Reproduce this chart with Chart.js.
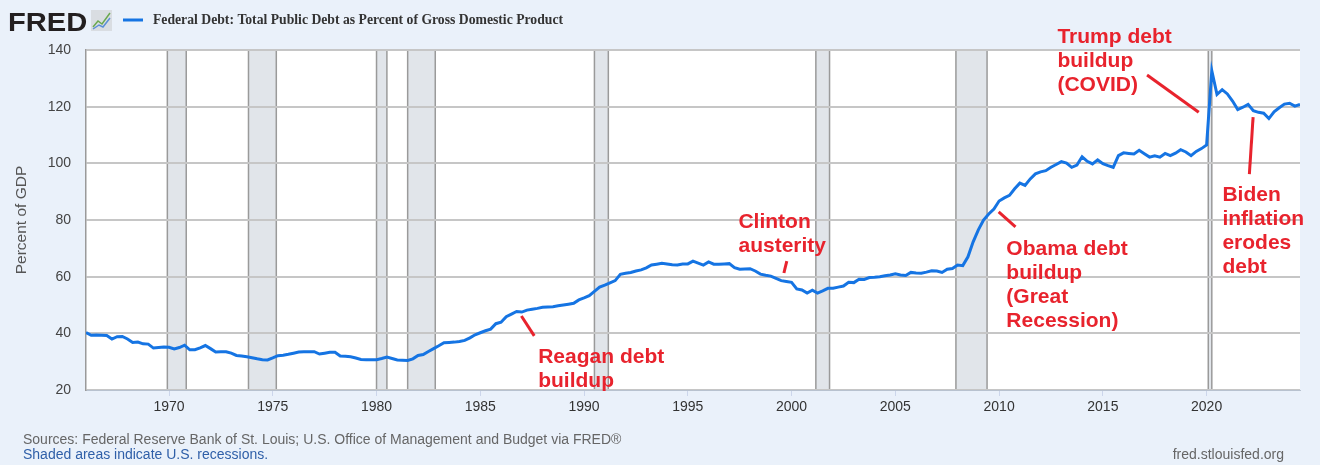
<!DOCTYPE html>
<html>
<head>
<meta charset="utf-8">
<script src="https://cdn.jsdelivr.net/npm/chart.js@4.4.1/dist/chart.umd.min.js"></script>
<style>
  html, body { margin: 0; padding: 0; background: #eaf1fa; }
  #wrap { width: 1320px; height: 465px; }
</style>
</head>
<body>
<div id="wrap"><canvas id="chart" width="1320" height="465"></canvas></div>
<script>
// Federal debt, % of GDP, quarterly from 1966 Q1
const firstYear = 1966;
const debtPct = [
  40.3, 39.3, 39.4, 39.3,   39.2, 38.0, 38.8, 38.9,   38.0, 36.8, 36.9, 36.3,   36.2, 34.8, 35.0, 35.2, // 1966-69
  35.1, 34.5, 35.0, 35.8,   34.2, 34.2, 34.9, 35.7,   34.6, 33.4, 33.5, 33.5,   33.0, 32.2, 32.0, 31.7, // 1970-73
  31.4, 31.0, 30.7, 30.6,   31.3, 32.1, 32.3, 32.6,   33.0, 33.4, 33.5, 33.5,   33.5, 32.7, 33.0, 33.3, // 1974-77
  33.3, 32.0, 31.9, 31.7,   31.3, 30.8, 30.7, 30.7,   30.7, 31.1, 31.6, 31.1,   30.6, 30.5, 30.4, 31.0, // 1978-81
  32.2, 32.5, 33.6, 34.6,   35.6, 36.7, 36.8, 36.9,   37.1, 37.5, 38.4, 39.5,   40.2, 40.9, 41.5, 43.4, // 1982-85
  43.9, 45.9, 46.8, 47.7,   47.5, 48.2, 48.5, 48.8,   49.2, 49.3, 49.4, 49.7,   50.0, 50.3, 50.6, 51.8, // 1986-89
  52.5, 53.3, 54.8, 56.3,   57.0, 57.8, 58.6, 60.8,   61.2, 61.5, 62.0, 62.4,   63.1, 64.1, 64.4, 64.7, // 1990-93
  64.5, 64.2, 64.1, 64.5,   64.5, 65.5, 64.8, 64.1,   65.2, 64.4, 64.4, 64.5,   64.6, 63.2, 62.6, 62.7, // 1994-97
  62.8, 62.0, 60.9, 60.5,   60.2, 59.4, 58.6, 58.3,   58.0, 55.7, 55.3, 54.2,   55.2, 54.2, 55.0, 55.9, // 1998-01
  55.9, 56.3, 56.7, 58.0,   57.9, 59.1, 59.0, 59.7,   59.8, 60.0, 60.3, 60.6,   61.0, 60.6, 60.4, 61.5, // 2002-05
  61.3, 61.2, 61.6, 62.1,   62.0, 61.5, 62.6, 62.9,   64.1, 63.9, 67.0, 72.3,   76.5, 80.0, 82.1, 83.9, // 2006-09
  86.7, 87.8, 88.7, 91.0,   93.0, 92.2, 94.5, 96.3,   97.0, 97.4, 98.6, 99.6,   100.6, 100.1, 98.6, 99.4, // 2010-13
  102.3, 100.7, 99.8, 101.2, 99.9, 99.2, 98.6, 102.7, 103.7, 103.5, 103.3, 104.6, 103.4, 102.2, 102.7, 102.2, // 2014-17
  103.5, 102.7, 103.6, 104.8, 104.0, 102.7, 104.2, 105.2, 106.5, 132.7, 124.3, 126.0, 124.5, 122.0, 119.0, 119.8, // 2018-21
  120.8, 118.6, 118.0, 117.7, 115.8, 118.2, 119.6, 120.9, 121.2, 120.2, 120.8 // 2022-24
];
const quarterYears = debtPct.map((v, i) => firstYear + i / 4);

const yearTicks = [1970, 1975, 1980, 1985, 1990, 1995, 2000, 2005, 2010, 2015, 2020];
const valueTicks = [20, 40, 60, 80, 100, 120, 140];

// NBER recessions (start, end) as decimal years
const recessions = [
  [1969.92, 1970.83], [1973.83, 1975.17], [1980.0, 1980.5], [1981.5, 1982.83],
  [1990.5, 1991.17], [2001.17, 2001.83], [2007.92, 2009.42], [2020.08, 2020.25]
];

// red commentary: text anchored at (x year, y value of first line), pointer line from -> to
const notes = [
  { lines: ['Reagan debt', 'buildup'], x: 1987.79, y: 31.6, from: [1986.98, 46.1], to: [1987.6, 39.1] },
  { lines: ['Clinton', 'austerity'], x: 1997.44, y: 79.3, from: [1999.77, 65.5], to: [1999.63, 61.3] },
  { lines: ['Obama debt', 'buildup', '(Great', 'Recession)'], x: 2010.35, y: 69.8, from: [2009.98, 82.9], to: [2010.79, 77.6] },
  { lines: ['Trump debt', 'buildup', '(COVID)'], x: 2012.81, y: 144.6, from: [2017.13, 131.2], to: [2019.62, 118.0] },
  { lines: ['Biden', 'inflation', 'erodes', 'debt'], x: 2020.76, y: 88.8, from: [2022.24, 116.3], to: [2022.06, 96.2] }
];

const SANS = '"Liberation Sans", Arial, sans-serif';
const RED = '#e8232d';

const backdrop = {
  id: 'backdrop',
  beforeDraw(chart) {
    const { ctx, chartArea: a, scales: { x } } = chart;
    ctx.save();
    ctx.fillStyle = '#eaf1fa';
    ctx.fillRect(0, 0, chart.width, chart.height);
    ctx.fillStyle = '#ffffff';
    ctx.fillRect(a.left, a.top, a.right - a.left, a.bottom - a.top);
    recessions.forEach(([s, e]) => {
      const x0 = x.getPixelForValue(s), x1 = x.getPixelForValue(e);
      ctx.fillStyle = '#e1e5ea';
      ctx.fillRect(x0, a.top, x1 - x0, a.bottom - a.top);
      ctx.strokeStyle = '#9a9a9a';
      ctx.lineWidth = 1.5;
      [x0, x1].forEach(px => {
        ctx.beginPath(); ctx.moveTo(px, a.top); ctx.lineTo(px, a.bottom); ctx.stroke();
      });
    });
    ctx.restore();
  }
};

const decorations = {
  id: 'decorations',
  afterDraw(chart) {
    const { ctx, scales: { x, y } } = chart;
    ctx.save();
    // FRED logo
    ctx.save();
    ctx.translate(8, 31);
    ctx.scale(1.12, 1);
    ctx.fillStyle = '#231f20';
    ctx.font = 'bold 26px ' + SANS;
    ctx.textBaseline = 'alphabetic';
    ctx.fillText('FRED', 0, 0);
    ctx.restore();
    ctx.fillStyle = '#d9dde2';
    ctx.fillRect(91, 10, 21, 21);
    ctx.strokeStyle = '#6aa84f';
    ctx.lineWidth = 1.5;
    ctx.beginPath(); ctx.moveTo(93, 27); ctx.lineTo(98, 21); ctx.lineTo(102, 24); ctx.lineTo(110, 13); ctx.stroke();
    ctx.strokeStyle = '#5b8fd6';
    ctx.beginPath(); ctx.moveTo(93, 29); ctx.lineTo(99, 25); ctx.lineTo(103, 27); ctx.lineTo(110, 18); ctx.stroke();
    // legend
    ctx.strokeStyle = '#1574e3';
    ctx.lineWidth = 3;
    ctx.beginPath(); ctx.moveTo(123, 20); ctx.lineTo(143, 20); ctx.stroke();
    ctx.fillStyle = '#333333';
    ctx.font = 'bold 13.7px "Liberation Serif", "Times New Roman", serif';
    ctx.textBaseline = 'middle';
    ctx.fillText('Federal Debt: Total Public Debt as Percent of Gross Domestic Product', 153, 20);
    // footer
    ctx.font = '14px ' + SANS;
    ctx.fillStyle = '#666666';
    ctx.fillText('Sources: Federal Reserve Bank of St. Louis; U.S. Office of Management and Budget via FRED\u00ae', 23, 440);
    ctx.fillStyle = '#2f5fa8';
    ctx.fillText('Shaded areas indicate U.S. recessions.', 23, 455);
    ctx.fillStyle = '#666666';
    ctx.textAlign = 'right';
    ctx.fillText('fred.stlouisfed.org', 1284, 455);
    // commentary
    ctx.textAlign = 'left';
    ctx.fillStyle = RED;
    ctx.strokeStyle = RED;
    ctx.lineWidth = 3;
    ctx.font = 'bold 21px ' + SANS;
    notes.forEach(n => {
      const tx = x.getPixelForValue(n.x), ty = y.getPixelForValue(n.y);
      n.lines.forEach((t, i) => ctx.fillText(t, tx, ty + i * 24));
      ctx.beginPath();
      ctx.moveTo(x.getPixelForValue(n.from[0]), y.getPixelForValue(n.from[1]));
      ctx.lineTo(x.getPixelForValue(n.to[0]), y.getPixelForValue(n.to[1]));
      ctx.stroke();
    });
    ctx.restore();
  }
};

new Chart(document.getElementById('chart'), {
  type: 'line',
  data: {
    datasets: [{
      label: 'Federal Debt: Total Public Debt as Percent of Gross Domestic Product',
      data: quarterYears.map((yr, i) => ({ x: yr, y: debtPct[i] })),
      borderColor: '#1574e3',
      borderWidth: 3,
      pointRadius: 0,
      tension: 0,
      fill: false
    }]
  },
  options: {
    responsive: false,
    animation: false,
    devicePixelRatio: 1,
    layout: { padding: { top: 50, right: 20, left: 0, bottom: 0 } },
    plugins: { legend: { display: false }, tooltip: { enabled: false } },
    scales: {
      x: {
        type: 'linear',
        min: firstYear,
        max: quarterYears[quarterYears.length - 1],
        afterBuildTicks: s => { s.ticks = yearTicks.map(v => ({ value: v })); },
        afterFit: s => { s.height = 75; },
        ticks: {
          autoSkip: false, maxRotation: 0, padding: 3,
          color: '#333333', font: { family: SANS, size: 14 },
          callback: v => String(v)
        },
        grid: { drawOnChartArea: false, drawTicks: true, tickLength: 6, color: '#ccd6eb' },
        border: { color: '#b8c2cf', width: 1 }
      },
      y: {
        min: 20,
        max: 140,
        afterBuildTicks: s => { s.ticks = valueTicks.map(v => ({ value: v })); },
        afterFit: s => { s.width = 86; },
        ticks: { padding: 15, color: '#444444', font: { family: SANS, size: 14 } },
        grid: { color: '#c6c6c6', lineWidth: 2, drawTicks: false },
        border: { color: '#9a9a9a', width: 1.5 },
        title: {
          display: true, text: 'Percent of GDP', color: '#555555',
          font: { family: SANS, size: 15.5 }, padding: { top: 12, bottom: 0 }
        }
      }
    }
  },
  plugins: [backdrop, decorations]
});
</script>
</body>
</html>
